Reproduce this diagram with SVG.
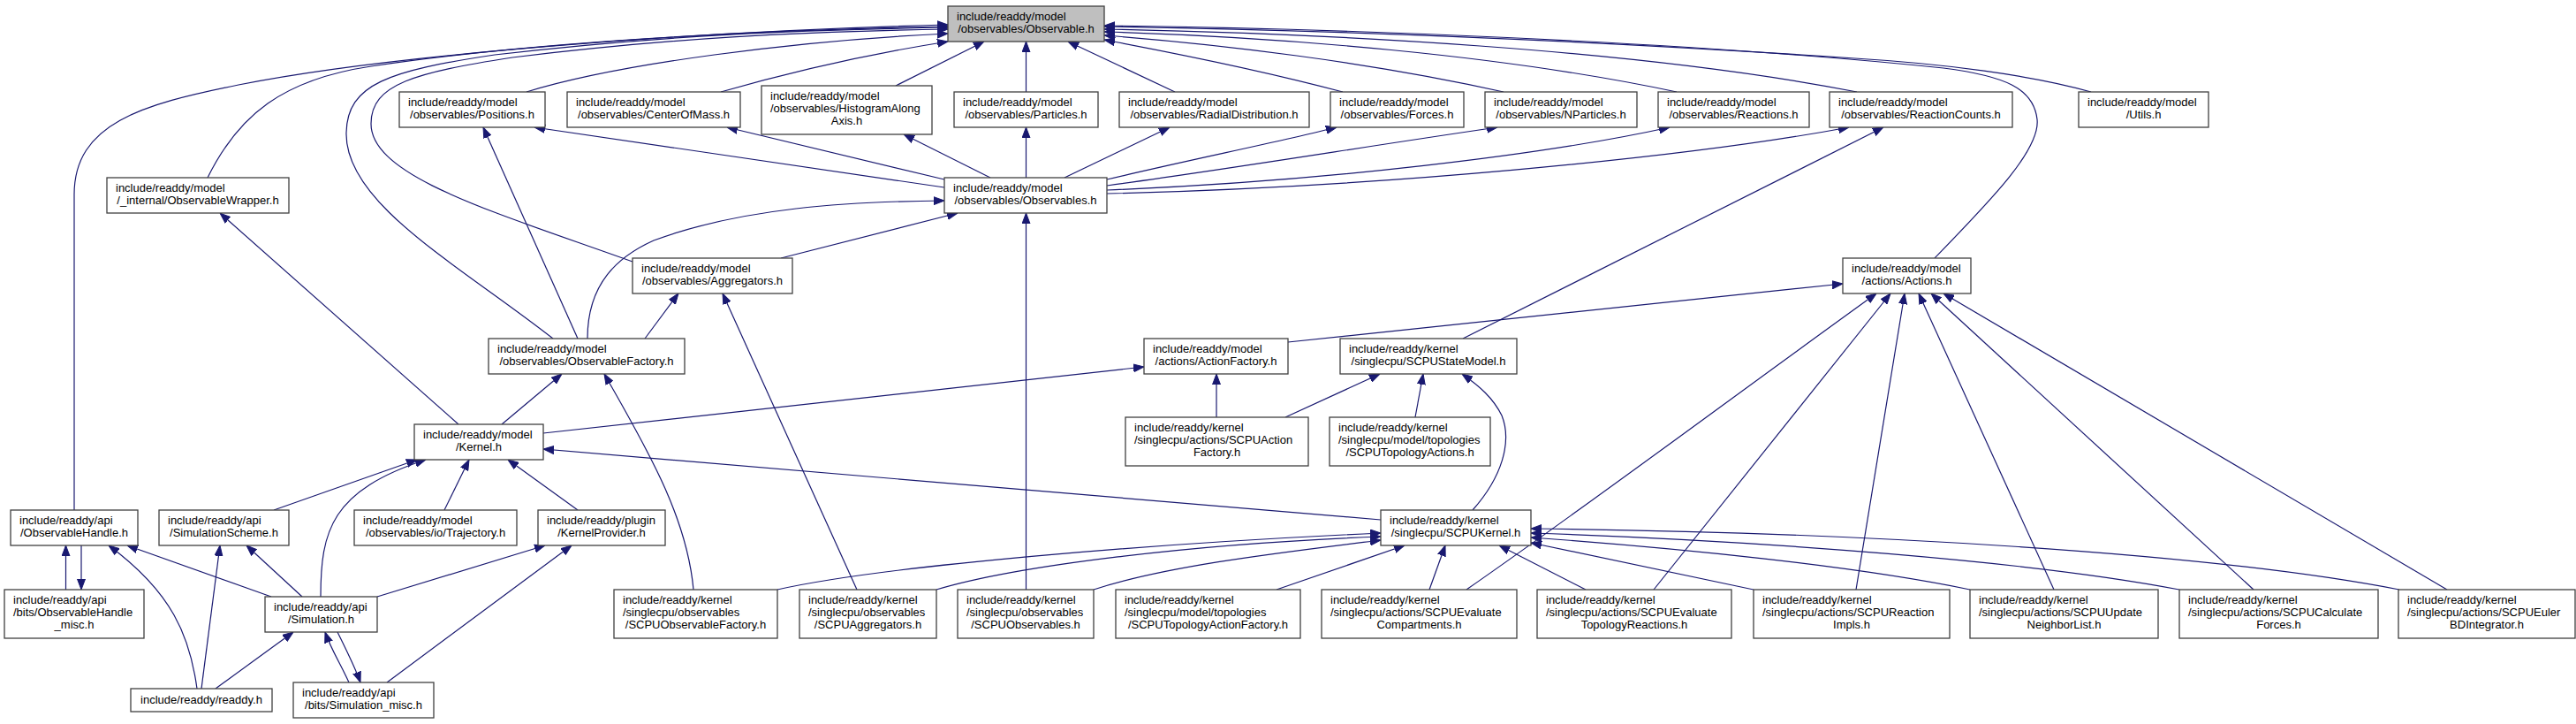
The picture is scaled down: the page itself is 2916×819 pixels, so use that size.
<svg xmlns="http://www.w3.org/2000/svg" width="2916" height="819" viewBox="0 0 2916 819">
<style>
.node rect{fill:#ffffff;stroke:#404040;stroke-width:1.3}
.hl rect{fill:#bfbfbf}
text{font-family:"Liberation Sans",Arial,Helvetica,sans-serif;font-size:13px;fill:#000000}
.c{text-anchor:middle}
.e path{fill:none;stroke:#191970;stroke-width:1.2;marker-end:url(#a)}
</style>
<defs>
<marker id="a" markerUnits="userSpaceOnUse" markerWidth="12" markerHeight="10" refX="12" refY="5" orient="auto" viewBox="0 0 12 10">
<path d="M0,0.5 L12,5 L0,9.5 Z" fill="#191970" stroke="#191970" stroke-width="1"/>
</marker>
</defs>
<rect x="0" y="0" width="2916" height="819" fill="#ffffff"/>
<g id="edges" class="e">
<!-- to Observable.h -->
<path d="M84,577 L84,220 C84,140 160,118 270,96 C450,60 800,35 1073,28"/>
<path d="M235,201 C270,130 320,90 420,75 C600,48 850,34 1073,30"/>
<path d="M626,383 C520,300 390,230 392,150 C393,95 440,80 560,62 C750,40 900,34 1073,31"/>
<path d="M716,296 C560,240 420,200 420,140 C420,95 470,82 580,65 C760,43 900,36 1073,33"/>
<path d="M596,104 C700,72 900,46 1073,38"/>
<path d="M816,104 C900,80 990,60 1073,47"/>
<path d="M1014,97 L1114,47"/>
<path d="M1161.5,104 L1161.5,47"/>
<path d="M1330,104 L1209,47"/>
<path d="M1520,104 C1430,80 1330,60 1250,45"/>
<path d="M1702,104 C1550,70 1380,50 1250,40"/>
<path d="M1898,104 C1700,62 1450,42 1250,36"/>
<path d="M2102,104 C1850,55 1500,38 1250,33"/>
<path d="M2367,104 C2300,85 2200,72 2100,66 C1800,46 1500,34 1250,30"/>
<path d="M2190,292 C2250,230 2310,170 2306,135 C2302,100 2270,86 2200,77 C1900,46 1500,32 1250,29"/>
<!-- Observables.h to row 2 -->
<path d="M1069,212 C900,186 750,166 605,144"/>
<path d="M1069,203 L823,144"/>
<path d="M1121,201 L1023,152"/>
<path d="M1161.5,201 L1161.5,144"/>
<path d="M1205,201 L1324,144"/>
<path d="M1253,203 C1350,180 1450,160 1513,144"/>
<path d="M1253,210 C1400,190 1550,165 1695,144"/>
<path d="M1253,215 C1500,205 1750,175 1890,144"/>
<path d="M1253,219 C1550,212 1900,180 2093,144"/>
<!-- into Observables.h -->
<path d="M884,292 L1084,241"/>
<path d="M665,383 C665,320 700,290 740,272 C840,235 960,228 1069,227"/>
<path d="M1161.5,667 L1161.5,241"/>
<!-- ObservableFactory / Aggregators -->
<path d="M654,383 L547,144"/>
<path d="M730,383 L768,332"/>
<path d="M970,667 L818,332"/>
<path d="M568,480 L636,423"/>
<path d="M785,667 C778,590 740,520 684,423"/>
<!-- Kernel.h -->
<path d="M519,480 L249,241"/>
<path d="M615,490 L1295,415"/>
<path d="M310,577 L472,520"/>
<path d="M363,675 C363,600 375,555 482,520"/>
<path d="M503,577 L531,520"/>
<path d="M654,577 L575,520"/>
<path d="M1563,588 L615,508"/>
<!-- ActionFactory / Actions -->
<path d="M1377,472 L1377,423"/>
<path d="M1458,387 L2086,321"/>
<path d="M1660,667 C1800,570 1960,450 2124,332"/>
<path d="M1872,667 L2140,332"/>
<path d="M2101,667 L2156,332"/>
<path d="M2325,667 L2172,332"/>
<path d="M2551,667 L2186,332"/>
<path d="M2770,667 L2200,332"/>
<!-- SCPUStateModel -->
<path d="M1455,472 L1562,423"/>
<path d="M1602,472 L1611,423"/>
<path d="M1667,577 C1700,540 1712,500 1700,470 C1690,450 1675,437 1655,423"/>
<path d="M1656,383 L2132,144"/>
<!-- SCPUKernel -->
<path d="M880,667 C1000,640 1300,615 1563,603"/>
<path d="M1060,667 C1150,640 1350,615 1563,607"/>
<path d="M1238,667 C1320,640 1450,625 1563,611"/>
<path d="M1445,667 L1590,617"/>
<path d="M1618,667 L1636,617"/>
<path d="M1795,667 L1697,617"/>
<path d="M1985,667 L1733,614"/>
<path d="M2716,667 C2500,625 2100,602 1733,598"/>
<path d="M2467,667 C2300,635 2000,612 1733,603"/>
<path d="M2230,667 C2100,640 1900,620 1733,608"/>
<!-- api cluster -->
<path d="M74.5,667 L74.5,617"/>
<path d="M92,617 L92,667"/>
<path d="M307,675 L144,617"/>
<path d="M223,779 C215,720 195,670 123,617"/>
<path d="M228,779 L249,617"/>
<path d="M342,675 L279,617"/>
<path d="M244,779 L332,715"/>
<path d="M395,772 C385,750 375,735 368,715"/>
<path d="M382,715 C392,735 402,755 408,772"/>
<path d="M427,675 L617,617"/>
<path d="M438,772 L647,617"/>
</g>
<g id="n0" class="node hl"><rect x="1073" y="7" width="177" height="40"/><text x="1083" y="23">include/readdy/model</text><text class="c" x="1161.5" y="37">/observables/Observable.h</text></g>
<g id="n1" class="node"><rect x="452" y="104" width="165" height="40"/><text x="462" y="120">include/readdy/model</text><text class="c" x="534.5" y="134">/observables/Positions.h</text></g>
<g id="n2" class="node"><rect x="642" y="104" width="196" height="40"/><text x="652" y="120">include/readdy/model</text><text class="c" x="740" y="134">/observables/CenterOfMass.h</text></g>
<g id="n3" class="node"><rect x="862" y="97" width="193" height="55"/><text x="872" y="113">include/readdy/model</text><text x="872" y="127">/observables/HistogramAlong</text><text class="c" x="958.5" y="141">Axis.h</text></g>
<g id="n4" class="node"><rect x="1080" y="104" width="163" height="40"/><text x="1090" y="120">include/readdy/model</text><text class="c" x="1161.5" y="134">/observables/Particles.h</text></g>
<g id="n5" class="node"><rect x="1267" y="104" width="215" height="40"/><text x="1277" y="120">include/readdy/model</text><text class="c" x="1374.5" y="134">/observables/RadialDistribution.h</text></g>
<g id="n6" class="node"><rect x="1506" y="104" width="151" height="40"/><text x="1516" y="120">include/readdy/model</text><text class="c" x="1581.5" y="134">/observables/Forces.h</text></g>
<g id="n7" class="node"><rect x="1681" y="104" width="172" height="40"/><text x="1691" y="120">include/readdy/model</text><text class="c" x="1767" y="134">/observables/NParticles.h</text></g>
<g id="n8" class="node"><rect x="1877" y="104" width="171" height="40"/><text x="1887" y="120">include/readdy/model</text><text class="c" x="1962.5" y="134">/observables/Reactions.h</text></g>
<g id="n9" class="node"><rect x="2071" y="104" width="207" height="40"/><text x="2081" y="120">include/readdy/model</text><text class="c" x="2174.5" y="134">/observables/ReactionCounts.h</text></g>
<g id="n10" class="node"><rect x="2353" y="104" width="147" height="40"/><text x="2363" y="120">include/readdy/model</text><text class="c" x="2426.5" y="134">/Utils.h</text></g>
<g id="n11" class="node"><rect x="121" y="201" width="206" height="40"/><text x="131" y="217">include/readdy/model</text><text class="c" x="224" y="231">/_internal/ObservableWrapper.h</text></g>
<g id="n12" class="node"><rect x="1069" y="201" width="184" height="40"/><text x="1079" y="217">include/readdy/model</text><text class="c" x="1161" y="231">/observables/Observables.h</text></g>
<g id="n13" class="node"><rect x="716" y="292" width="181" height="40"/><text x="726" y="308">include/readdy/model</text><text class="c" x="806.5" y="322">/observables/Aggregators.h</text></g>
<g id="n14" class="node"><rect x="2086" y="292" width="145" height="40"/><text x="2096" y="308">include/readdy/model</text><text class="c" x="2158.5" y="322">/actions/Actions.h</text></g>
<g id="n15" class="node"><rect x="553" y="383" width="222" height="40"/><text x="563" y="399">include/readdy/model</text><text class="c" x="664" y="413">/observables/ObservableFactory.h</text></g>
<g id="n16" class="node"><rect x="1295" y="383" width="163" height="40"/><text x="1305" y="399">include/readdy/model</text><text class="c" x="1376.5" y="413">/actions/ActionFactory.h</text></g>
<g id="n17" class="node"><rect x="1517" y="383" width="200" height="40"/><text x="1527" y="399">include/readdy/kernel</text><text class="c" x="1617" y="413">/singlecpu/SCPUStateModel.h</text></g>
<g id="n18" class="node"><rect x="469" y="480" width="146" height="40"/><text x="479" y="496">include/readdy/model</text><text class="c" x="542" y="510">/Kernel.h</text></g>
<g id="n19" class="node"><rect x="1274" y="472" width="207" height="55"/><text x="1284" y="488">include/readdy/kernel</text><text x="1284" y="502">/singlecpu/actions/SCPUAction</text><text class="c" x="1377.5" y="516">Factory.h</text></g>
<g id="n20" class="node"><rect x="1505" y="472" width="182" height="55"/><text x="1515" y="488">include/readdy/kernel</text><text x="1515" y="502">/singlecpu/model/topologies</text><text class="c" x="1596" y="516">/SCPUTopologyActions.h</text></g>
<g id="n21" class="node"><rect x="12" y="577" width="144" height="40"/><text x="22" y="593">include/readdy/api</text><text class="c" x="84" y="607">/ObservableHandle.h</text></g>
<g id="n22" class="node"><rect x="180" y="577" width="147" height="40"/><text x="190" y="593">include/readdy/api</text><text class="c" x="253.5" y="607">/SimulationScheme.h</text></g>
<g id="n23" class="node"><rect x="401" y="577" width="184" height="40"/><text x="411" y="593">include/readdy/model</text><text class="c" x="493" y="607">/observables/io/Trajectory.h</text></g>
<g id="n24" class="node"><rect x="609" y="577" width="144" height="40"/><text x="619" y="593">include/readdy/plugin</text><text class="c" x="681" y="607">/KernelProvider.h</text></g>
<g id="n25" class="node"><rect x="1563" y="577" width="170" height="40"/><text x="1573" y="593">include/readdy/kernel</text><text class="c" x="1648" y="607">/singlecpu/SCPUKernel.h</text></g>
<g id="n26" class="node"><rect x="5" y="667" width="158" height="55"/><text x="15" y="683">include/readdy/api</text><text x="15" y="697">/bits/ObservableHandle</text><text class="c" x="84" y="711">_misc.h</text></g>
<g id="n27" class="node"><rect x="300" y="675" width="127" height="40"/><text x="310" y="691">include/readdy/api</text><text class="c" x="363.5" y="705">/Simulation.h</text></g>
<g id="n28" class="node"><rect x="695" y="667" width="185" height="55"/><text x="705" y="683">include/readdy/kernel</text><text x="705" y="697">/singlecpu/observables</text><text class="c" x="787.5" y="711">/SCPUObservableFactory.h</text></g>
<g id="n29" class="node"><rect x="905" y="667" width="155" height="55"/><text x="915" y="683">include/readdy/kernel</text><text x="915" y="697">/singlecpu/observables</text><text class="c" x="982.5" y="711">/SCPUAggregators.h</text></g>
<g id="n30" class="node"><rect x="1084" y="667" width="154" height="55"/><text x="1094" y="683">include/readdy/kernel</text><text x="1094" y="697">/singlecpu/observables</text><text class="c" x="1161" y="711">/SCPUObservables.h</text></g>
<g id="n31" class="node"><rect x="1263" y="667" width="209" height="55"/><text x="1273" y="683">include/readdy/kernel</text><text x="1273" y="697">/singlecpu/model/topologies</text><text class="c" x="1367.5" y="711">/SCPUTopologyActionFactory.h</text></g>
<g id="n32" class="node"><rect x="1496" y="667" width="221" height="55"/><text x="1506" y="683">include/readdy/kernel</text><text x="1506" y="697">/singlecpu/actions/SCPUEvaluate</text><text class="c" x="1606.5" y="711">Compartments.h</text></g>
<g id="n33" class="node"><rect x="1740" y="667" width="220" height="55"/><text x="1750" y="683">include/readdy/kernel</text><text x="1750" y="697">/singlecpu/actions/SCPUEvaluate</text><text class="c" x="1850" y="711">TopologyReactions.h</text></g>
<g id="n34" class="node"><rect x="1985" y="667" width="222" height="55"/><text x="1995" y="683">include/readdy/kernel</text><text x="1995" y="697">/singlecpu/actions/SCPUReaction</text><text class="c" x="2096" y="711">Impls.h</text></g>
<g id="n35" class="node"><rect x="2230" y="667" width="213" height="55"/><text x="2240" y="683">include/readdy/kernel</text><text x="2240" y="697">/singlecpu/actions/SCPUUpdate</text><text class="c" x="2336.5" y="711">NeighborList.h</text></g>
<g id="n36" class="node"><rect x="2467" y="667" width="225" height="55"/><text x="2477" y="683">include/readdy/kernel</text><text x="2477" y="697">/singlecpu/actions/SCPUCalculate</text><text class="c" x="2579.5" y="711">Forces.h</text></g>
<g id="n37" class="node"><rect x="2715" y="667" width="200" height="55"/><text x="2725" y="683">include/readdy/kernel</text><text x="2725" y="697">/singlecpu/actions/SCPUEuler</text><text class="c" x="2815" y="711">BDIntegrator.h</text></g>
<g id="n38" class="node"><rect x="148" y="779" width="160" height="26"/><text class="c" x="228" y="796">include/readdy/readdy.h</text></g>
<g id="n39" class="node"><rect x="332" y="772" width="159" height="40"/><text x="342" y="788">include/readdy/api</text><text class="c" x="411.5" y="802">/bits/Simulation_misc.h</text></g>
</svg>
